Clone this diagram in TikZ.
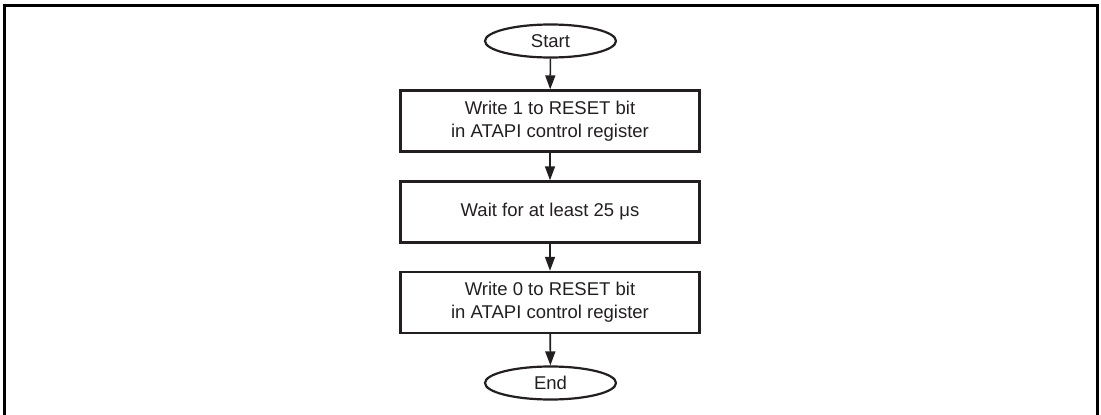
\documentclass[tikz,border=0pt]{standalone}
\usepackage{fontspec}
\setmainfont{Liberation Sans}
\usetikzlibrary{arrows.meta,shapes.geometric}
\definecolor{ink}{HTML}{231F20}
\tikzset{
  every node/.style={font=\fontsize{18.5}{23}\selectfont, text=ink},
  procbox/.style={draw=ink, line width=2.4pt, rectangle, minimum width=299pt, minimum height=61pt, inner sep=0pt, align=center},
  term/.style={draw=ink, line width=2.2pt, ellipse, minimum width=131pt, minimum height=33pt, inner sep=0pt},
  flow/.style={draw=ink, line width=1.6pt, -{Triangle[width=10pt,length=14pt]}},
  frame/.style={draw=black, line width=3pt}
}
\begin{document}
\begin{tikzpicture}[x=1pt,y=-1pt]
\useasboundingbox (0,0) rectangle (1101,415);
\draw[frame] (4,420) -- (4,5) -- (1097,5) -- (1097,420);
\node[term] (start) at (550.5,41) {Start};
\node[procbox] (b1) at (550,121) {Write 1 to RESET bit\\in ATAPI control register};
\node[procbox] (b2) at (550,212) {Wait for at least 25 μs};
\node[procbox] (b3) at (550,302.5) {Write 0 to RESET bit\\in ATAPI control register};
\node[term] (end) at (550.5,383) {End};
\draw[flow] (start) -- (b1);
\draw[flow] (b1) -- (b2);
\draw[flow] (b2) -- (b3);
\draw[flow] (b3) -- (end);
\end{tikzpicture}
\end{document}
